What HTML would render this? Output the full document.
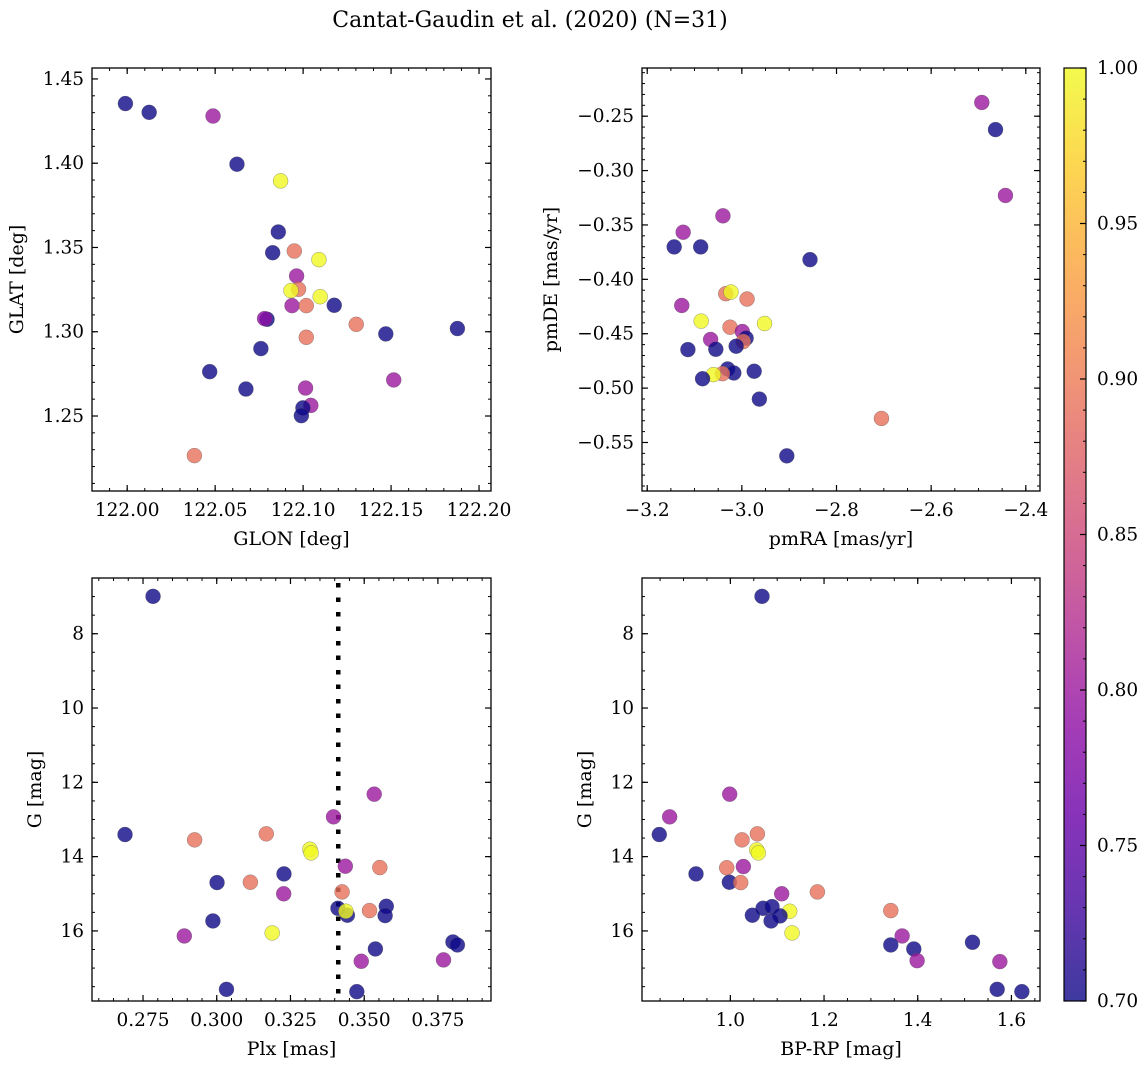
<!DOCTYPE html>
<html><head><meta charset="utf-8"><style>
html,body{margin:0;padding:0;background:#fff;}
svg{display:block;font-family:"DejaVu Serif","Liberation Serif",serif;}
</style></head><body>
<svg id="chart" width="1148" height="1068" viewBox="0 0 1148 1068" xmlns="http://www.w3.org/2000/svg">
<text x="530" y="27" font-size="22" text-anchor="middle">Cantat-Gaudin et al. (2020) (N=31)</text>
</svg>
<script>
// ---- Panel 1: GLON vs GLAT
const p1Glon=[121.999,122.0125,122.0488,122.0624,122.0872,122.0859,122.0827,122.095,122.109,122.0963,122.0974,122.0931,122.1097,122.0937,122.1018,122.1177,122.1302,122.147,122.1877,122.0795,122.0781,122.1018,122.076,122.0469,122.0675,122.1014,122.1515,122.1044,122.0999,122.099,122.0382];
const p1Glat=[1.4354,1.4302,1.428,1.3994,1.3895,1.3592,1.3469,1.3479,1.3428,1.3331,1.3252,1.3244,1.3208,1.3155,1.3155,1.3157,1.3044,1.2987,1.3019,1.3074,1.3078,1.2967,1.290,1.2763,1.266,1.2666,1.2714,1.2563,1.2548,1.2502,1.2265];
const p1Prob=[0.7,0.7,0.8,0.7,1.0,0.7,0.7,0.89,1.0,0.8,0.89,1.0,1.0,0.8,0.89,0.7,0.89,0.7,0.7,0.7,0.79,0.89,0.7,0.7,0.7,0.8,0.8,0.8,0.7,0.7,0.89];
// ---- Panel 2: pmRA vs pmDE
const p2PmRA=[-2.493,-2.464,-2.443,-3.040,-3.124,-3.143,-3.087,-2.856,-3.034,-3.023,-2.989,-3.127,-3.086,-2.952,-3.025,-2.999,-2.991,-2.997,-3.066,-3.114,-3.055,-3.012,-3.030,-3.017,-3.041,-3.060,-2.974,-3.083,-2.963,-2.705,-2.905];
const p2PmDE=[-0.2374,-0.2623,-0.3229,-0.3416,-0.3567,-0.3702,-0.3702,-0.3819,-0.4132,-0.4117,-0.4181,-0.424,-0.4384,-0.4406,-0.444,-0.448,-0.4541,-0.4572,-0.4553,-0.4646,-0.4643,-0.4615,-0.4824,-0.4861,-0.4867,-0.4876,-0.4845,-0.4914,-0.5101,-0.5279,-0.5623];
const p2Prob=[0.8,0.7,0.8,0.8,0.8,0.7,0.7,0.7,0.89,1.0,0.89,0.8,1.0,1.0,0.89,0.8,0.7,0.89,0.8,0.7,0.7,0.7,0.7,0.7,0.89,1.0,0.7,0.7,0.7,0.89,0.7];
// ---- Panel 3: Plx vs G
const p3Plx=[0.2784,0.2689,0.2925,0.3168,0.3396,0.3534,0.3316,0.332,0.3436,0.3553,0.3228,0.3001,0.3114,0.3227,0.3425,0.3411,0.3443,0.3438,0.3518,0.3575,0.3571,0.2987,0.3188,0.289,0.3538,0.3801,0.3816,0.349,0.3769,0.3033,0.3475];
const p3G=[6.994,13.405,13.549,13.387,12.929,12.319,13.80,13.90,14.258,14.294,14.465,14.698,14.689,15.00,14.95,15.39,15.578,15.47,15.452,15.336,15.587,15.731,16.054,16.135,16.485,16.297,16.377,16.817,16.78,17.572,17.635];
const p3Prob=[0.7,0.7,0.89,0.89,0.8,0.8,1.0,1.0,0.8,0.89,0.7,0.7,0.89,0.8,0.89,0.7,0.7,1.0,0.89,0.7,0.7,0.7,1.0,0.8,0.7,0.7,0.7,0.8,0.8,0.7,0.7];
const plxRef=[0.3412];
// ---- Panel 4: BP-RP vs G
const p4BpRp=[1.0676,0.9986,0.8704,0.8483,1.0577,1.0249,1.0562,1.0598,1.0278,0.9922,0.9267,0.9979,1.0221,1.1096,1.1858,1.0698,1.089,1.1267,1.1061,1.047,1.0869,1.1317,1.3425,1.3667,1.3425,1.3916,1.3987,1.5169,1.5753,1.5696,1.6223];
const p4G=[6.994,12.319,12.929,13.405,13.387,13.549,13.82,13.90,14.267,14.30,14.465,14.689,14.698,15.00,14.95,15.39,15.345,15.47,15.596,15.578,15.731,16.054,15.452,16.135,16.377,16.485,16.80,16.306,16.826,17.572,17.635];
const p4Prob=[0.7,0.8,0.8,0.7,0.89,0.89,1.0,1.0,0.8,0.89,0.7,0.7,0.89,0.8,0.89,0.7,0.7,1.0,0.7,0.7,0.7,1.0,0.89,0.8,0.7,0.7,0.8,0.7,0.8,0.7,0.7];
// ---- Colorbar ticks
const cbTicks=[0.70,0.75,0.80,0.85,0.90,0.95,1.00];

const NS="http://www.w3.org/2000/svg";
const svg=document.getElementById('chart');
function mk(tag,attrs,parent){const e=document.createElementNS(NS,tag);for(const k in attrs)e.setAttribute(k,attrs[k]);(parent||svg).appendChild(e);return e;}
const stops=["#0d0887","#41049d","#6a00a8","#8f0da4","#b12a90","#cc4778","#e16462","#f2844b","#fca636","#fcce25","#f0f921"];
function hx(h){return [1,3,5].map(i=>parseInt(h.substr(i,2),16));}
function plasma(t){t=Math.max(0,Math.min(1,t));const f=t*10,i=Math.min(9,Math.floor(f)),r=f-i;const a=hx(stops[i]),b=hx(stops[i+1]);return "rgb("+a.map((v,k)=>Math.round(v+(b[k]-v)*r)).join(",")+")";}
function probColor(p){return plasma((p-0.7)/0.3);}
function fmt(v,d){return (v<0?"\u2212":"")+Math.abs(v).toFixed(d);}
const TF=18.5, LF=19;

function panel(o){
  const g=mk('g',{});
  
  
  const X=v=>o.L+(v-o.xmin)/(o.xmax-o.xmin)*(o.R-o.L);
  const Y=o.invert?(v=>o.T+(v-o.ymin)/(o.ymax-o.ymin)*(o.B-o.T)):(v=>o.B-(v-o.ymin)/(o.ymax-o.ymin)*(o.B-o.T));
  const eps=1e-9;
  for(let v=Math.ceil(o.xmin/o.xmin_step-eps)*o.xmin_step;v<=o.xmax+eps;v+=o.xmin_step){const x=X(v);mk('line',{x1:x,x2:x,y1:o.B,y2:o.B-3,stroke:"#000","stroke-width":1},g);mk('line',{x1:x,x2:x,y1:o.T,y2:o.T+3,stroke:"#000","stroke-width":1},g);}
  for(let v=Math.ceil(o.ymin/o.ymin_step-eps)*o.ymin_step;v<=o.ymax+eps;v+=o.ymin_step){const y=Y(v);mk('line',{x1:o.L,x2:o.L+3,y1:y,y2:y,stroke:"#000","stroke-width":1},g);mk('line',{x1:o.R,x2:o.R-3,y1:y,y2:y,stroke:"#000","stroke-width":1},g);}
  o.xt.forEach(v=>{const x=X(v);mk('line',{x1:x,x2:x,y1:o.B,y2:o.B-6,stroke:"#000","stroke-width":1.2},g);mk('line',{x1:x,x2:x,y1:o.T,y2:o.T+6,stroke:"#000","stroke-width":1.2},g);
    const t=mk('text',{x:x,y:o.B+25,"font-size":TF,"text-anchor":"middle"},g);t.textContent=fmt(v,o.xd);
    
    });
  o.yt.forEach(v=>{const y=Y(v);mk('line',{x1:o.L,x2:o.L+6,y1:y,y2:y,stroke:"#000","stroke-width":1.2},g);mk('line',{x1:o.R,x2:o.R-6,y1:y,y2:y,stroke:"#000","stroke-width":1.2},g);
    const t=mk('text',{x:o.L-8,y:y+6,"font-size":TF,"text-anchor":"end"},g);t.textContent=fmt(v,o.yd);
    
    });
  const xl=mk('text',{x:(o.L+o.R)/2,y:o.B+54,"font-size":LF,"text-anchor":"middle"},g);xl.textContent=o.xlabel;
  
  
  const yx=o.ylx,yy=(o.T+o.B)/2;
  const yl=mk('text',{x:yx,y:yy,"font-size":LF,"text-anchor":"middle",transform:`rotate(-90 ${yx} ${yy})`},g);yl.textContent=o.ylabel;
  
  
  if(o.vline){o.vline.forEach(v=>{const l=mk('line',{x1:X(v),x2:X(v),y1:o.T+5,y2:o.B,stroke:"#000","stroke-width":4.5,"stroke-dasharray":"4.5 10"},g);
    
    });}
  for(let i=0;i<o.xs.length;i++){
    const c=mk('circle',{cx:X(o.xs[i]),cy:Y(o.ys[i]),r:7.5,fill:probColor(o.cs[i]),"fill-opacity":0.8,stroke:"#555","stroke-opacity":0.6,"stroke-width":0.5},g);
    
    
  }
  const fr=mk('rect',{x:o.L,y:o.T,width:o.R-o.L,height:o.B-o.T,fill:"none",stroke:"#000","stroke-width":1.3},g);
  
  
}
panel({name:"glon-glat-panel",L:92,R:491,T:68,B:491,xmin:121.980,xmax:122.2068,ymin:1.2055,ymax:1.4565,
  xt:[122.00,122.05,122.10,122.15,122.20],xd:2,yt:[1.25,1.30,1.35,1.40,1.45],yd:2,xmin_step:0.01,ymin_step:0.01,
  xlabel:"GLON [deg]",ylabel:"GLAT [deg]",ylx:23,xs:p1Glon,ys:p1Glat,cs:p1Prob});
panel({name:"pm-panel",L:642,R:1040,T:68,B:491,xmin:-3.211,xmax:-2.370,ymin:-0.5946,ymax:-0.2057,
  xt:[-3.2,-3.0,-2.8,-2.6,-2.4],xd:1,yt:[-0.55,-0.50,-0.45,-0.40,-0.35,-0.30,-0.25],yd:2,xmin_step:0.05,ymin_step:0.01,
  xlabel:"pmRA [mas/yr]",ylabel:"pmDE [mas/yr]",ylx:557,xs:p2PmRA,ys:p2PmDE,cs:p2Prob});
panel({name:"plx-g-panel",L:92,R:491,T:578,B:1001,xmin:0.2577,xmax:0.393,ymin:6.50,ymax:17.886,invert:true,
  xt:[0.275,0.300,0.325,0.350,0.375],xd:3,yt:[8,10,12,14,16],yd:0,xmin_step:0.005,ymin_step:0.5,
  xlabel:"Plx [mas]",ylabel:"G [mag]",ylx:41,xs:p3Plx,ys:p3G,cs:p3Prob,vline:plxRef});
panel({name:"cmd-panel",L:642,R:1040,T:578,B:1001,xmin:0.8114,xmax:1.661,ymin:6.50,ymax:17.886,invert:true,
  xt:[1.0,1.2,1.4,1.6],xd:1,yt:[8,10,12,14,16],yd:0,xmin_step:0.05,ymin_step:0.5,
  xlabel:"BP-RP [mag]",ylabel:"G [mag]",ylx:591,xs:p4BpRp,ys:p4G,cs:p4Prob});

// colorbar
const cb=mk('g',{});


const defs=mk('defs',{});
const lg=mk('linearGradient',{id:"cbg",x1:0,y1:1,x2:0,y2:0},defs);
for(let i=0;i<=20;i++){mk('stop',{offset:i/20,"stop-color":plasma(i/20),"stop-opacity":0.8},lg);}
const CL=1064,CR=1086,CT=68,CB=1001;
const CY=v=>CB-(v-0.7)/0.3*(CB-CT);
const cr=mk('rect',{x:CL,y:CT,width:CR-CL,height:CB-CT,fill:"url(#cbg)",stroke:"#000","stroke-width":1.2},cb);


for(let v=0.70;v<=1.0001;v+=0.01){const y=CY(v);mk('line',{x1:CR,x2:CR-3,y1:y,y2:y,stroke:"#000","stroke-width":1},cb);}
cbTicks.forEach(v=>{const y=CY(v);mk('line',{x1:CR,x2:CR-6,y1:y,y2:y,stroke:"#000","stroke-width":1.2},cb);
  const t=mk('text',{x:CR+11,y:y+6,"font-size":TF},cb);t.textContent=v.toFixed(2);
  
  });
</script>
</body></html>
